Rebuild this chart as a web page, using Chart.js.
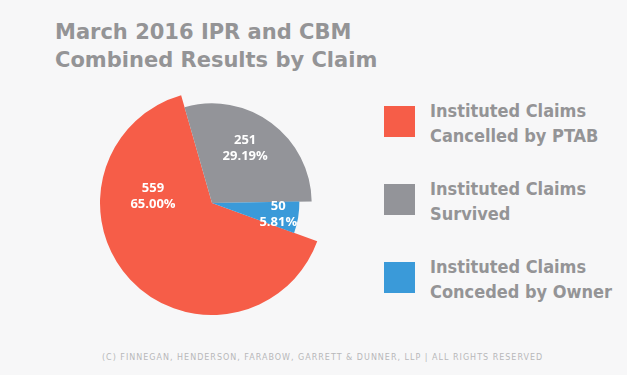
<!DOCTYPE html>
<html>
<head>
<meta charset="utf-8">
<script src="https://cdn.jsdelivr.net/npm/chart.js@4.4.1/dist/chart.umd.min.js"></script>
<style>
    html, body { margin: 0; padding: 0; }
    body { width: 627px; height: 375px; background: #f7f7f8; position: relative; overflow: hidden; }
    .cond { font-family: "DejaVu Sans Condensed", "DejaVu Sans", sans-serif; font-stretch: condensed; font-weight: bold; color: #949496; }
    #title { position: absolute; left: 55px; top: 18px; font-family: "DejaVu Sans", sans-serif; font-weight: bold; color: #949496; font-size: 21px; line-height: 28px; white-space: nowrap; }
    #pieBox { position: absolute; left: 100px; top: 91px; width: 224px; height: 224px; }
    #legend { position: absolute; left: 384px; top: 98px; }
    .item { position: relative; height: 78px; }
    .swatch { position: absolute; left: 0; top: 8px; width: 31px; height: 31px; }
    .item .txt { position: absolute; left: 46px; top: 0; font-size: 18px; line-height: 25px; white-space: nowrap; }
    #footer { position: absolute; left: 102px; top: 353px; font-family: "DejaVu Sans", sans-serif; font-size: 8px; letter-spacing: 1px; color: #b8b8ba; white-space: nowrap; }
</style>
</head>
<body>
<div id="title">March 2016 IPR and CBM<br>Combined Results by Claim</div>
<div id="pieBox"><canvas id="pieChart"></canvas></div>
<div id="legend"></div>
<div id="footer">(C) FINNEGAN, HENDERSON, FARABOW, GARRETT &amp; DUNNER, LLP | ALL RIGHTS RESERVED</div>

<script>
// podaci sa grafikona
const categories = [
    ['Instituted Claims', 'Cancelled by PTAB'],
    ['Instituted Claims', 'Survived'],
    ['Instituted Claims', 'Conceded by Owner']
];
const claimCounts = [559, 251, 50];
const sliceColors = ['#f65d48', '#939499', '#3a9ad9'];

// izgled krugova (samo stil)
const radiusScale = [1, 0.89, 0.78];
const labelAngle = [0.71, 0.45, 0.5];
const labelRadius = [0.53, 0.57, 0.6];

const total = claimCounts.reduce((a, b) => a + b, 0);

// legenda
const legend = document.getElementById('legend');
categories.forEach((lines, i) => {
    const item = document.createElement('div');
    item.className = 'item';
    item.innerHTML = '<div class="swatch" style="background:' + sliceColors[i] + '"></div>' +
        '<div class="txt cond">' + lines.join('<br>') + '</div>';
    legend.appendChild(item);
});

// razlicit poluprecnik i tekst u krugu
const sliceShape = {
    id: 'sliceShape',
    beforeDatasetsDraw(chart) {
        const meta = chart.getDatasetMeta(0);
        const base = meta.controller.outerRadius;
        meta.data.forEach((arc, i) => { arc.outerRadius = base * radiusScale[i]; });
    },
    afterDatasetsDraw(chart) {
        const meta = chart.getDatasetMeta(0);
        const base = meta.controller.outerRadius;
        const ctx = chart.ctx;
        ctx.save();
        ctx.fillStyle = '#ffffff';
        ctx.font = 'bold 13px "Open Sans", sans-serif';
        ctx.textAlign = 'center';
        ctx.textBaseline = 'middle';
        meta.data.forEach((arc, i) => {
            const a = arc.startAngle + labelAngle[i] * (arc.endAngle - arc.startAngle);
            const r = base * labelRadius[i];
            const x = arc.x + Math.cos(a) * r;
            const y = arc.y + Math.sin(a) * r;
            ctx.fillText(String(claimCounts[i]), x, y - 8);
            ctx.fillText((claimCounts[i] / total * 100).toFixed(2) + '%', x, y + 8);
        });
        ctx.restore();
    }
};

new Chart(document.getElementById('pieChart').getContext('2d'), {
    type: 'pie',
    data: {
        labels: categories,
        datasets: [{
            data: claimCounts,
            backgroundColor: sliceColors,
            borderWidth: 0
        }]
    },
    options: {
        responsive: true,
        maintainAspectRatio: false,
        animation: false,
        events: [],
        rotation: 110,
        layout: { padding: 0 },
        plugins: {
            legend: { display: false },
            tooltip: { enabled: false }
        }
    },
    plugins: [sliceShape]
});
</script>
</body>
</html>
